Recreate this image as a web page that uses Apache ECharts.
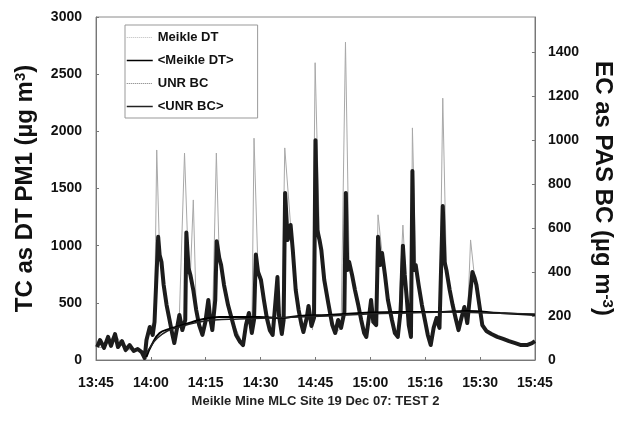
<!DOCTYPE html>
<html><head><meta charset="utf-8">
<script src="https://cdn.jsdelivr.net/npm/echarts@6/dist/echarts.min.js"></script>
<style>html,body{margin:0;padding:0;background:#fff}#c{width:623px;height:421px}</style>
</head><body><div id="c"></div>
<script>
// minutes after 13:45
const xTickLabels = ['13:45','14:00','14:15','14:30','14:45','15:00','15:16','15:30','15:45'];

const dtTime = [0.3,2.2,5.2,8.1,11.4,13.3,14.7,16.0,16.6,17.4,18.5,20.1,21.4,22.8,24.2,25.3,25.8,26.6,27.4,29.1,30.7,31.8,32.9,33.7,35.0,37.2,40.2,41.8,42.6,43.2,44.3,45.9,48.3,49.6,50.8,51.6,53.2,54.6,56.7,58.1,59.2,59.9,61.1,62.4,64.6,65.4,67.0,68.2,69.2,70.8,72.5,73.9,75.2,76.6,77.1,78.2,79.8,81.7,82.5,83.9,85.0,86.1,86.5,87.4,89.1,91.5,93.1,93.9,94.8,95.8,97.5,99.1,100.7,101.5,102.4,103.5,104.8,105.6,108.1,111.3,114.6,117.8,120.0];
const dtVal = [114,105,227,87,96,17,289,332,1837,918,656,350,149,394,1810,805,744,1400,437,219,525,262,1810,892,656,350,131,411,236,1940,770,525,219,726,227,1855,1180,612,245,472,262,2600,1050,700,306,236,280,2780,857,612,350,201,525,306,1270,936,525,236,201,1180,525,201,2030,831,481,131,367,280,2290,787,481,262,463,323,1050,717,481,306,227,184,149,131,166];

const bcTime = [0.3,1.1,2.2,3.3,4.1,5.2,6.0,7.1,8.1,9.2,10.3,11.4,12.5,13.3,13.8,14.7,15.5,16.0,16.6,17.0,17.4,17.9,18.5,19.3,20.1,20.9,21.4,22.3,22.8,23.6,24.4,24.7,25.3,25.8,26.6,27.4,28.2,29.1,29.9,30.7,31.2,31.8,32.6,33.0,33.7,34.2,35.0,36.1,37.2,38.3,39.4,40.2,41.0,41.8,42.6,43.2,43.7,44.3,45.1,45.9,46.7,47.5,48.3,49.1,49.6,50.0,50.8,51.3,51.7,52.4,53.2,53.8,54.6,55.4,56.2,56.7,57.6,58.1,58.9,59.6,60.0,60.5,61.1,61.6,62.4,63.5,64.6,65.4,66.2,67.0,67.9,68.3,68.7,69.2,70.0,70.8,71.7,72.5,73.3,73.9,74.7,75.2,75.8,76.6,77.1,77.7,78.2,79.0,79.8,80.9,81.7,82.5,83.3,83.9,84.4,85.0,85.5,86.1,86.5,86.9,87.4,88.2,89.1,89.9,90.7,91.5,92.3,93.1,93.9,94.8,95.3,95.8,96.7,97.5,98.3,99.1,99.9,100.7,101.5,102.4,102.9,103.5,104.0,104.8,105.6,106.7,108.1,109.7,111.3,112.9,114.6,116.2,117.8,119.2,120.0];
const bcVal = [59,91,55,105,64,118,59,86,45,68,41,50,36,9,91,150,114,173,409,560,478,446,341,250,182,114,77,159,205,136,182,580,418,387,318,227,159,114,173,273,191,136,273,540,464,432,341,250,182,114,82,68,159,214,123,182,480,400,364,273,191,136,114,273,377,205,118,182,760,546,614,500,318,227,159,127,191,246,155,191,1000,591,546,500,364,259,159,123,182,146,218,760,409,446,387,318,250,182,123,105,205,273,173,159,560,432,487,387,273,182,123,105,227,520,387,273,159,105,860,409,432,341,250,182,114,68,146,191,146,700,446,409,318,250,191,136,191,241,168,318,400,373,341,250,159,132,118,105,96,86,77,68,68,77,86];

const dtAvgTime = [13.8,15.2,17.4,20.1,22.8,25.5,28.2,31.0,33.7,39.1,44.5,50.8,55.4,63.5,72.5,82.5,92.6,101.5,110.5,120];
const dtAvgVal = [26,131,236,271,297,324,350,367,376,376,376,367,385,394,411,420,420,429,411,394];
const bcAvgTime = [13.3,14.7,16.8,19.5,22.8,26.9,32.3,39.1,47.2,55.4,63.5,74.4,85.3,96.1,107.0,120];
const bcAvgVal = [18,55,100,132,150,168,182,186,191,196,200,209,214,218,214,209];

const pair = (t, v) => t.map((x, i) => [x, v[i]]);
const FF = '"Liberation Sans", Arial, sans-serif';
const chart = echarts.init(document.getElementById('c'), null, {renderer: 'canvas'});
const tickLbl = {fontFamily: FF, fontWeight: 'bold', fontSize: 14, color: '#111', formatter: v => String(v)};
const supStyle = {fontFamily: FF, fontWeight: 'bold', fontSize: 15, color: '#111', verticalAlign: 'top', lineHeight: 14, padding: [0, 0, 10, 0]};
const hide = {opacity: 0};
chart.setOption({
  animation: false,
  backgroundColor: '#fff',
  grid: {left: 96, right: 84, top: 17, bottom: 61, show: true, borderColor: '#8a8a8a', borderWidth: 1},
  legend: {
    left: 125, top: 25, orient: 'vertical', itemGap: 10, itemWidth: 26, itemHeight: 13,
    padding: [6, 24, 5, 1], borderColor: '#999', borderWidth: 1, backgroundColor: '#fff',
    itemStyle: hide,
    textStyle: {fontFamily: FF, fontWeight: 'bold', fontSize: 13, color: '#111'},
    data: [
      {name: 'Meikle DT', itemStyle: hide, lineStyle: {color: '#bbb', width: 1, type: 'dotted'}},
      {name: '<Meikle DT>', itemStyle: hide, lineStyle: {color: '#000', width: 1.5}},
      {name: 'UNR BC', itemStyle: hide, lineStyle: {color: '#777', width: 1, type: 'dotted'}},
      {name: '<UNR BC>', itemStyle: hide, lineStyle: {color: '#222', width: 1.5}}
    ]
  },
  xAxis: {
    type: 'value', min: 0, max: 120, interval: 15,
    name: 'Meikle Mine MLC Site 19 Dec 07: TEST 2', nameLocation: 'middle', nameGap: 35,
    nameTextStyle: {fontFamily: FF, fontWeight: 'bold', fontSize: 13, color: '#222'},
    axisLine: {lineStyle: {color: '#777', width: 1}},
    axisTick: {inside: true, length: 3, lineStyle: {color: '#777'}},
    splitLine: {show: false},
    axisLabel: Object.assign({}, tickLbl, {margin: 16, formatter: v => xTickLabels[Math.round(v / 15)]})
  },
  yAxis: [
    {
      type: 'value', min: 0, max: 3000, interval: 500, position: 'left',
      name: 'TC as DT PM1 (µg m{sup|3})', nameLocation: 'middle', nameGap: 59,
      nameTextStyle: {fontFamily: FF, fontWeight: 'bold', fontSize: 24, color: '#111', rich: {sup: supStyle}},
      axisLine: {show: true, lineStyle: {color: '#777'}},
      axisTick: {show: true, inside: true, length: 3, lineStyle: {color: '#777'}},
      splitLine: {show: false},
      axisLabel: Object.assign({margin: 14}, tickLbl)
    },
    {
      type: 'value', min: 0, max: 1560, interval: 200, position: 'right',
      name: 'EC as PAS BC (µg m{sup|-3})', nameLocation: 'middle', nameGap: 53, nameRotate: -90,
      nameTextStyle: {fontFamily: FF, fontWeight: 'bold', fontSize: 24, color: '#111', rich: {sup: supStyle}},
      axisLine: {show: true, lineStyle: {color: '#777'}},
      axisTick: {show: true, inside: true, length: 3, lineStyle: {color: '#777'}},
      splitLine: {show: false},
      axisLabel: Object.assign({margin: 13, showMaxLabel: false}, tickLbl)
    }
  ],
  series: [
    {name: 'Meikle DT', type: 'line', yAxisIndex: 0, data: pair(dtTime, dtVal), symbol: 'none',
     lineStyle: {color: '#a8a8a8', width: 1}, itemStyle: {color: '#bbb'}, z: 1},
    {name: 'UNR BC', type: 'line', yAxisIndex: 1, data: pair(bcTime, bcVal), symbol: 'none',
     lineStyle: {color: '#1c1c1c', width: 4, join: 'round'}, itemStyle: {color: '#888'}, z: 2},
    {name: '<Meikle DT>', type: 'line', yAxisIndex: 0, data: pair(dtAvgTime, dtAvgVal), symbol: 'none', smooth: true,
     lineStyle: {color: '#000', width: 2}, itemStyle: {color: '#000'}, z: 3},
    {name: '<UNR BC>', type: 'line', yAxisIndex: 1, data: pair(bcAvgTime, bcAvgVal), symbol: 'none', smooth: true,
     lineStyle: {color: '#222', width: 1.5}, itemStyle: {color: '#222'}, z: 4}
  ]
});
</script></body></html>
